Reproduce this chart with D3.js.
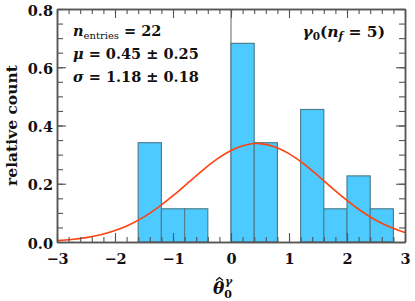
<!DOCTYPE html>
<html>
<head>
  <meta charset="utf-8">
  <style>
    body { margin: 0; background: #fff; }
    text { font-family: "DejaVu Serif", serif; }
  </style>
</head>
<body>
  <svg id="svg"></svg>
<script src="https://d3js.org/d3.v7.min.js"></script>
<script>
  // histogram bins (left edges, width 0.4) and relative counts
  var binStarts = [-1.6, -1.2, -0.8, 0.0, 0.4, 1.2, 1.6, 2.0, 2.4];
  var binWidth = 0.4;
  var relCounts = [0.341, 0.114, 0.114, 0.682, 0.341, 0.455, 0.114, 0.227, 0.114];

  // fitted curve
  var curveX = [-3, -2.75, -2.5, -2.25, -2, -1.75, -1.5, -1.25, -1, -0.75, -0.5, -0.25,
    0, 0.25, 0.5, 0.75, 1, 1.25, 1.5, 1.75, 2, 2.25, 2.5, 2.75, 3];
  var curveY = [0.0047, 0.0086, 0.0149, 0.0247, 0.0392, 0.0595, 0.0863, 0.1198, 0.1589,
    0.2016, 0.2445, 0.2835, 0.3144, 0.3333, 0.3378, 0.3273, 0.3033, 0.2687, 0.2276,
    0.1843, 0.1427, 0.1056, 0.0748, 0.0506, 0.0327];

  var xTicks = [-3, -2, -1, 0, 1, 2, 3];
  var yTicks = [0.0, 0.2, 0.4, 0.6, 0.8];

  var width = 415, height = 301;
  var margin = { top: 9, right: 10, bottom: 59, left: 57 };
  var w = width - margin.left - margin.right,
    h = height - margin.top - margin.bottom;

  var svg = d3.select("#svg").attr("width", width).attr("height", height);
  var g = svg.append("g").attr("transform", "translate(" + margin.left + "," + margin.top + ")");

  var x = d3.scaleLinear().domain([-3, 3]).range([0, w]);
  var y = d3.scaleLinear().domain([0, 0.8]).range([h, 0]);

  //ZERO LINE
  g.append("line")
    .attr("x1", x(0)).attr("x2", x(0))
    .attr("y1", 0).attr("y2", h)
    .attr("stroke", "#999")
    .attr("stroke-width", 1.5);

  //BARS
  g.selectAll("rect.bar")
    .data(binStarts)
    .enter()
    .append("rect")
    .attr("class", "bar")
    .attr("x", function (d) { return x(d); })
    .attr("width", function (d) { return x(d + binWidth) - x(d); })
    .attr("y", function (d, i) { return y(relCounts[i]); })
    .attr("height", function (d, i) { return h - y(relCounts[i]); })
    .attr("fill", "#4dcaff")
    .attr("stroke", "#4f7f90")
    .attr("stroke-width", 1.2);

  //CURVE
  var line = d3.line()
    .x(function (d) { return x(d); })
    .y(function (d, i) { return y(curveY[i]); })
    .curve(d3.curveNatural);

  g.append("path")
    .datum(curveX)
    .attr("d", line)
    .attr("fill", "none")
    .attr("stroke", "#ff4212")
    .attr("stroke-width", 1.6);

  //AXES
  var minorX = d3.range(-3, 3.001, 0.2).map(function (v) { return +v.toFixed(1); });
  var minorY = d3.range(0, 0.801, 0.05).map(function (v) { return +v.toFixed(2); });

  function styleAxis(sel) {
    sel.selectAll(".domain").attr("stroke", "#555").attr("stroke-width", 1.5);
    sel.selectAll(".tick line").attr("stroke", "#555").attr("stroke-width", 1.1);
  }

  g.append("g").attr("transform", "translate(0," + h + ")")
    .call(d3.axisBottom(x).tickValues(minorX).tickSize(-5).tickSizeOuter(0).tickFormat(""))
    .call(styleAxis);
  var xb = g.append("g").attr("transform", "translate(0," + h + ")")
    .call(d3.axisBottom(x).tickValues(xTicks).tickSize(-9).tickSizeOuter(0).tickPadding(12)
      .tickFormat(d3.format("d")))
    .call(styleAxis);
  g.append("g")
    .call(d3.axisTop(x).tickValues(minorX).tickSize(-5).tickSizeOuter(0).tickFormat(""))
    .call(styleAxis);
  g.append("g")
    .call(d3.axisTop(x).tickValues(xTicks).tickSize(-9).tickSizeOuter(0).tickFormat(""))
    .call(styleAxis);

  g.append("g")
    .call(d3.axisLeft(y).tickValues(minorY).tickSize(-6).tickSizeOuter(0).tickFormat(""))
    .call(styleAxis);
  var yl = g.append("g")
    .call(d3.axisLeft(y).tickValues(yTicks).tickSize(-9).tickSizeOuter(0).tickPadding(4)
      .tickFormat(d3.format(".1f")))
    .call(styleAxis);
  g.append("g").attr("transform", "translate(" + w + ",0)")
    .call(d3.axisRight(y).tickValues(minorY).tickSize(-6).tickSizeOuter(0).tickFormat(""))
    .call(styleAxis);
  g.append("g").attr("transform", "translate(" + w + ",0)")
    .call(d3.axisRight(y).tickValues(yTicks).tickSize(-9).tickSizeOuter(0).tickFormat(""))
    .call(styleAxis);

  xb.selectAll("text")
    .attr("font-weight", "bold")
    .attr("font-size", 14.5).attr("fill", "#111");
  yl.selectAll("text")
    .attr("font-weight", "bold")
    .attr("font-size", 14.5).attr("fill", "#111").attr("dy", "0.42em");

  //AXIS TITLES
  svg.append("text")
    .attr("transform", "translate(17," + (margin.top + h / 2) + ") rotate(-90)")
    .attr("text-anchor", "middle")
    .attr("font-weight", "bold")
    .attr("font-size", 15.5)
    .attr("fill", "#111")
    .text("relative count");

  var tx = margin.left + x(0) - 18;
  var xt = svg.append("text")
    .attr("x", tx)
    .attr("y", 294)
    .attr("font-weight", "bold")
    .attr("font-size", 17)
    .attr("fill", "#111");
  xt.append("tspan").attr("font-style", "italic").text("\u03B8");
  xt.append("tspan").attr("font-size", 11).attr("dy", 4).text("0");
  xt.append("tspan").attr("font-size", 11).attr("dx", -7).attr("dy", -13)
    .attr("font-style", "italic").text("\u03B3");
  // hat over theta
  svg.append("path")
    .attr("d", "M" + (tx + 3) + ",280.5 L" + (tx + 6.5) + ",277.5 L" + (tx + 10) + ",280.5")
    .attr("fill", "none")
    .attr("stroke", "#111")
    .attr("stroke-width", 1.3);

  //ANNOTATIONS
  var ann = g.append("g").attr("fill", "#111").attr("font-weight", "bold").attr("font-size", 14.5);
  var t1 = ann.append("text").attr("x", 16).attr("y", 27);
  t1.append("tspan").attr("font-style", "italic").text("n");
  t1.append("tspan").attr("font-size", 10).attr("font-weight", "normal").attr("dy", 3).text("entries");
  t1.append("tspan").attr("dy", -3).text(" = 22");

  var t2 = ann.append("text").attr("x", 16).attr("y", 50);
  t2.append("tspan").attr("font-style", "italic").text("\u03BC");
  t2.append("tspan").text(" = 0.45 \u00B1 0.25");

  var t3 = ann.append("text").attr("x", 16).attr("y", 73);
  t3.append("tspan").attr("font-style", "italic").text("\u03C3");
  t3.append("tspan").text(" = 1.18 \u00B1 0.18");

  var t4 = ann.append("text").attr("x", w - 20).attr("y", 28).attr("text-anchor", "end")
    .attr("font-size", 15.5);
  t4.append("tspan").attr("font-style", "italic").text("\u03B3");
  t4.append("tspan").attr("font-size", 10.5).attr("dy", 3).text("0");
  t4.append("tspan").attr("dy", -3).text("(");
  t4.append("tspan").attr("font-style", "italic").text("n");
  t4.append("tspan").attr("font-size", 10.5).attr("font-style", "italic").attr("dy", 3).text("f");
  t4.append("tspan").attr("dy", -3).text(" = 5)");
</script>
</body>
</html>
